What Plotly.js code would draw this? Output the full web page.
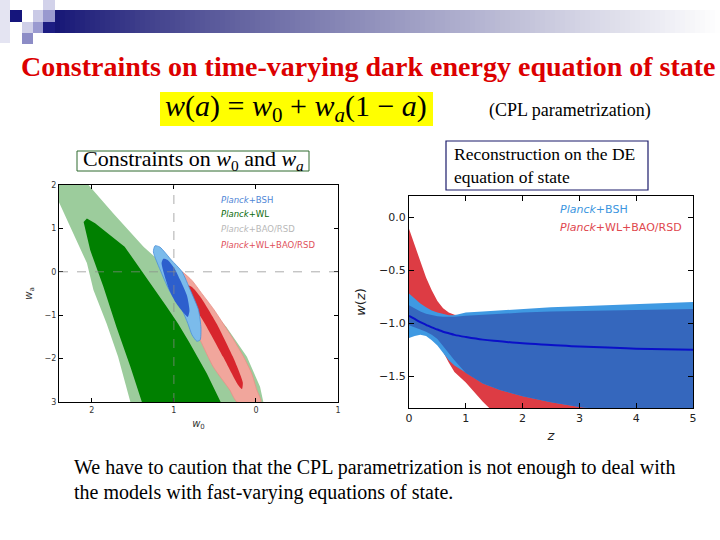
<!DOCTYPE html>
<html><head><meta charset="utf-8">
<script src="https://cdn.plot.ly/plotly-3.0.1.min.js"></script>
<style>html,body{margin:0;padding:0;background:#fff;}#chart{width:720px;height:540px;}</style>
</head><body><div id="chart"></div>
<script>
// ---------- Left panel: constraints on (w0, wa) ----------
const xTickVals = [-2, -1, 0, 1];
const xTickText = ['2', '1', '0', '1'];
const yTickVals = [2, 1, 0, -1, -2, -3];
const yTickText = ['2', '1', '0', '\u22121', '\u22122', '3'];

const greenOuterW0 = [-2.4, -2.04, -1.74, -1.37, -1.15, -1.0, -0.68, -0.36, -0.11, 0.05, 0.09, -1.53, -1.57, -1.68, -1.82, -1.98, -2.06, -2.25, -2.4];
const greenOuterWa = [2.0, 2.0, 1.35, 0.58, 0.2, -0.05, -0.57, -1.27, -1.96, -2.65, -3.0, -3.0, -2.72, -1.96, -1.19, -0.42, 0.2, 0.96, 1.6];

const greenInnerW0 = [-2.06, -1.96, -1.6, -1.31, -1.09, -0.95, -0.82, -0.60, -0.43, -1.39, -1.53, -1.70, -1.86, -2.02, -2.1];
const greenInnerWa = [1.23, 1.12, 0.58, -0.19, -0.8, -1.19, -1.6, -2.34, -3.0, -3.0, -2.19, -1.27, -0.34, 0.5, 1.15];

const redOuterW0 = [-1.0, -0.9, -0.78, -0.66, -0.52, -0.40, -0.27, -0.15, -0.05, 0.01, 0.06, -0.23, -0.32, -0.52, -0.68, -0.8, -0.92, -1.02];
const redOuterWa = [0.05, 0.0, -0.2, -0.5, -0.85, -1.19, -1.57, -1.96, -2.35, -2.72, -3.0, -3.0, -2.72, -2.19, -1.57, -1.1, -0.6, -0.2];

const redInnerW0 = [-0.86, -0.78, -0.68, -0.48, -0.28, -0.16, -0.17, -0.22, -0.40, -0.62, -0.78, -0.86];
const redInnerWa = [-0.3, -0.35, -0.57, -1.19, -1.96, -2.55, -2.7, -2.6, -1.96, -1.2, -0.7, -0.4];

const blueOuterW0 = [-1.23, -1.17, -1.03, -0.90, -0.80, -0.70, -0.67, -0.68, -0.72, -0.78, -0.83, -0.90, -1.05, -1.15, -1.25];
const blueOuterWa = [0.6, 0.57, 0.27, 0.0, -0.42, -0.88, -1.3, -1.57, -1.6, -1.45, -1.19, -0.88, -0.45, -0.03, 0.46];

const blueInnerW0 = [-1.13, -1.08, -1.0, -0.92, -0.84, -0.81, -0.83, -0.88, -0.98, -1.06, -1.12, -1.15];
const blueInnerWa = [0.3, 0.28, 0.1, -0.2, -0.55, -0.9, -1.04, -0.95, -0.7, -0.4, -0.05, 0.2];

const leftLegendLabels = ['<i>Planck</i>+BSH', '<i>Planck</i>+WL', '<i>Planck</i>+BAO/RSD', '<i>Planck</i>+WL+BAO/RSD'];

// ---------- Right panel: reconstructed w(z) ----------
const zGrid    = [0, 0.1, 0.2, 0.3, 0.4, 0.5, 0.6, 0.7, 0.8, 1.0, 1.3, 1.6, 2, 2.5, 3, 3.5, 4, 4.5, 5];
const redUpper = [-0.11, -0.26, -0.42, -0.57, -0.69, -0.79, -0.86, -0.90, -0.92, -0.93, -0.93, -0.93, -0.93, -0.93, -0.93, -0.93, -0.93, -0.93, -0.93];
const redLower = [-1.05, -1.07, -1.09, -1.10, -1.14, -1.19, -1.27, -1.37, -1.46, -1.56, -1.74, -1.90, -2.1, -2.3, -2.5, -2.6, -2.7, -2.8, -2.9];
const lbUpper  = [-0.72, -0.77, -0.815, -0.85, -0.88, -0.90, -0.915, -0.925, -0.925, -0.90, -0.89, -0.88, -0.86, -0.85, -0.84, -0.83, -0.82, -0.81, -0.80];
const lbLower  = [-1.14, -1.12, -1.11, -1.12, -1.16, -1.21, -1.28, -1.35, -1.40, -1.47, -1.57, -1.63, -1.69, -1.745, -1.79, -1.82, -1.85, -1.875, -1.9];
const dbUpper  = [-0.83, -0.86, -0.89, -0.91, -0.925, -0.935, -0.94, -0.94, -0.94, -0.93, -0.92, -0.91, -0.90, -0.89, -0.885, -0.88, -0.875, -0.87, -0.865];
const dbLower  = [-1.02, -1.04, -1.06, -1.08, -1.11, -1.15, -1.21, -1.28, -1.35, -1.47, -1.57, -1.63, -1.69, -1.745, -1.79, -1.82, -1.85, -1.875, -1.9];
const wMean    = [-0.93, -0.96, -0.99, -1.015, -1.04, -1.06, -1.08, -1.095, -1.11, -1.13, -1.155, -1.17, -1.19, -1.205, -1.22, -1.23, -1.24, -1.245, -1.25];
const rightYTickVals = [0, -0.5, -1.0, -1.5];
const rightYTickText = ['0.0', '\u22120.5', '\u22121.0', '\u22121.5'];
const rightLegendLabels = ['<i>Planck</i>+BSH', '<i>Planck</i>+WL+BAO/RSD'];

// ---------- helpers ----------
const W = 720, H = 540;
const px = v => v / W;
const py = v => 1 - v / H;
function band(z, up, lo) {
  return { x: z.concat(z.slice().reverse()), y: up.concat(lo.slice().reverse()) };
}
function poly(xs, ys, fill, edge, smooth, axes) {
  return {
    type: 'scatter', mode: 'lines', x: xs.concat([xs[0]]), y: ys.concat([ys[0]]),
    fill: 'toself', fillcolor: fill,
    line: { color: edge || fill, width: edge ? 0.8 : 0, shape: smooth ? 'spline' : 'linear', smoothing: 0.6 },
    xaxis: axes[0], yaxis: axes[1], hoverinfo: 'skip'
  };
}

const L = ['x', 'y'], R = ['x2', 'y2'];
const traces = [
  poly(greenOuterW0, greenOuterWa, '#9ccc9c', null, false, L),
  poly(greenInnerW0, greenInnerWa, '#008000', null, false, L),
  poly(redOuterW0, redOuterWa, '#f1a69c', '#e88f86', true, L),
  poly(redInnerW0, redInnerWa, '#d8262d', null, true, L),
  poly(blueOuterW0, blueOuterWa, '#7bbbeb', '#4b8fd8', true, L),
  poly(blueInnerW0, blueInnerWa, '#2d5fcd', null, true, L),
];
const rb = band(zGrid, redUpper, redLower);
const lb = band(zGrid, lbUpper, lbLower);
const db = band(zGrid, dbUpper, dbLower);
traces.push(poly(rb.x, rb.y, '#dd3c44', null, false, R));
traces.push(poly(lb.x, lb.y, '#3f99e2', null, false, R));
traces.push(poly(db.x, db.y, '#3567bd', null, false, R));
traces.push({ type: 'scatter', mode: 'lines', x: zGrid, y: wMean, line: { color: '#0a10c8', width: 2, shape: 'spline' }, xaxis: 'x2', yaxis: 'y2', hoverinfo: 'skip' });

// ---------- decorations ----------
const shapes = [];
function rectPx(x0, y0, x1, y1, fill, line) {
  shapes.push({ type: 'rect', xref: 'paper', yref: 'paper', x0: px(x0), x1: px(x1), y0: py(y1), y1: py(y0),
    fillcolor: fill, line: line || { width: 0 }, layer: 'below' });
}
// gradient bar
const gx0 = 55, gx1 = 720, step = 5;
for (let x = gx0; x < gx1; x += step) {
  const t = (x - gx0) / (gx1 - gx0);
  const r = Math.round(22 + 233 * Math.pow(t, 0.85));
  const b = Math.round(118 + 137 * Math.pow(t, 0.9));
  rectPx(x, 10, x + step + 0.5, 33, `rgb(${r},${r},${b})`);
}
// squares
rectPx(0, 0, 10, 43, '#e4e4f2');
rectPx(10, 10, 22, 22, '#15157c');
rectPx(22, 22, 33, 33, '#cfcfe8');
rectPx(22, 33, 33, 44, '#8c8cc6');
rectPx(33, 10, 43, 22, '#cacae6');
rectPx(33, 22, 43, 33, '#9a9ad0');
rectPx(43, 0, 55, 10, '#d2d2ea');
rectPx(43, 10, 55, 22, '#9999cf');
rectPx(43, 22, 55, 33, '#1c1c82');
// formula highlight
rectPx(160, 92, 433, 126, '#ffff00');
// boxes
rectPx(77, 151, 309, 171, '#ffffff', { color: '#2f6a2f', width: 1 });
rectPx(446, 141, 648, 190, '#ffffff', { color: '#1b1b6b', width: 1.2 });
// reference dashed lines in left panel
shapes.push({ type: 'line', xref: 'x', yref: 'y', x0: -1, x1: -1, y0: -3, y1: 2, line: { color: '#8a8a8a', width: 1, dash: 'dash' }, layer: 'above', opacity: 0.7 });
shapes.push({ type: 'line', xref: 'x', yref: 'y', x0: -2.4, x1: 1, y0: 0, y1: 0, line: { color: '#8a8a8a', width: 1, dash: 'dash' }, layer: 'above', opacity: 0.7 });

// ---------- texts ----------
const serif = 'Liberation Serif, Times New Roman, serif';
const sans = 'DejaVu Sans, sans-serif';
const annotations = [
  { text: '<b>Constraints on time-varying dark energy equation of state</b>', x: px(368), y: py(66), xanchor: 'center', yanchor: 'middle',
    font: { family: serif, size: 28, color: '#dc0000' } },
  { text: '<i>w</i>(<i>a</i>) = <i>w</i><sub>0</sub> + <i>w<sub>a</sub></i>(1 \u2212 <i>a</i>)', x: px(296), y: py(108), xanchor: 'center', yanchor: 'middle',
    font: { family: serif, size: 30, color: '#000' } },
  { text: '(CPL parametrization)', x: px(487), y: py(110), xanchor: 'left', yanchor: 'middle', font: { family: serif, size: 18, color: '#000' } },
  { text: 'Constraints on <i>w</i><sub>0</sub> and <i>w<sub>a</sub></i>', x: px(193), y: py(160), xanchor: 'center', yanchor: 'middle',
    font: { family: serif, size: 22, color: '#000' } },
  { text: 'Reconstruction on the DE<br>equation of state', x: px(452), y: py(166), xanchor: 'left', yanchor: 'middle', align: 'left',
    font: { family: serif, size: 17.5, color: '#000' } },
  { text: 'We have to caution that the CPL parametrization is not enough to deal with', x: px(72), y: py(467), xanchor: 'left', yanchor: 'middle',
    font: { family: serif, size: 20, color: '#000' } },
  { text: 'the models with fast-varying equations of state.', x: px(72), y: py(492), xanchor: 'left', yanchor: 'middle',
    font: { family: serif, size: 20, color: '#000' } },
];
const leftLegendColors = ['#4f86d6', '#0a6a0a', '#b8b8b8', '#e0505a'];
const leftLegendY = [200, 214, 229, 245];
leftLegendLabels.forEach((t, i) => annotations.push({ text: t, x: px(219), y: py(leftLegendY[i]), xanchor: 'left', yanchor: 'middle',
  font: { family: sans, size: 8.5, color: leftLegendColors[i] } }));
const rightLegendColors = ['#3c96e0', '#e0474e'];
const rightLegendY = [210, 227];
rightLegendLabels.forEach((t, i) => annotations.push({ text: t, x: px(558), y: py(rightLegendY[i]), xanchor: 'left', yanchor: 'middle',
  font: { family: sans, size: 11, color: rightLegendColors[i] } }));
annotations.forEach(a => { a.xref = 'paper'; a.yref = 'paper'; a.showarrow = false; });

const axisCommon = { showgrid: false, zeroline: false, showline: true, linecolor: '#000', linewidth: 1,
  mirror: 'ticks', ticks: 'inside', tickcolor: '#000', fixedrange: true };

const layout = {
  width: W, height: H, margin: { l: 0, r: 0, t: 0, b: 0 },
  paper_bgcolor: '#fff', plot_bgcolor: '#fff', showlegend: false,
  xaxis: Object.assign({}, axisCommon, { domain: [px(59), px(338)], range: [-2.4, 1], tickvals: xTickVals, ticktext: xTickText,
    ticklen: 4, tickfont: { family: sans, size: 8, color: '#333' },
    title: { text: '<i>w</i><sub>0</sub>', font: { family: sans, size: 10, color: '#333' }, standoff: 6 } }),
  yaxis: Object.assign({}, axisCommon, { domain: [py(402), py(185)], range: [-3, 2], tickvals: yTickVals, ticktext: yTickText,
    ticklen: 4, tickfont: { family: sans, size: 8, color: '#333' },
    title: { text: '<i>w</i><sub>a</sub>', font: { family: sans, size: 10, color: '#333' }, standoff: 10 } }),
  xaxis2: Object.assign({}, axisCommon, { anchor: 'y2', domain: [px(409), px(693)], range: [0, 5], dtick: 1,
    ticklen: 5, tickfont: { family: sans, size: 11, color: '#222' },
    title: { text: '<i>z</i>', font: { family: sans, size: 13, color: '#222' }, standoff: 6 } }),
  yaxis2: Object.assign({}, axisCommon, { anchor: 'x2', domain: [py(408), py(196)], range: [-1.8, 0.2],
    tickvals: rightYTickVals, ticktext: rightYTickText,
    ticklen: 5, tickfont: { family: sans, size: 11, color: '#222' },
    title: { text: '<i>w</i>(<i>z</i>)', font: { family: sans, size: 13, color: '#222' }, standoff: 10 } }),
  shapes: shapes,
  annotations: annotations,
};

Plotly.newPlot('chart', traces, layout, { staticPlot: true, displayModeBar: false });
</script>
</body></html>
